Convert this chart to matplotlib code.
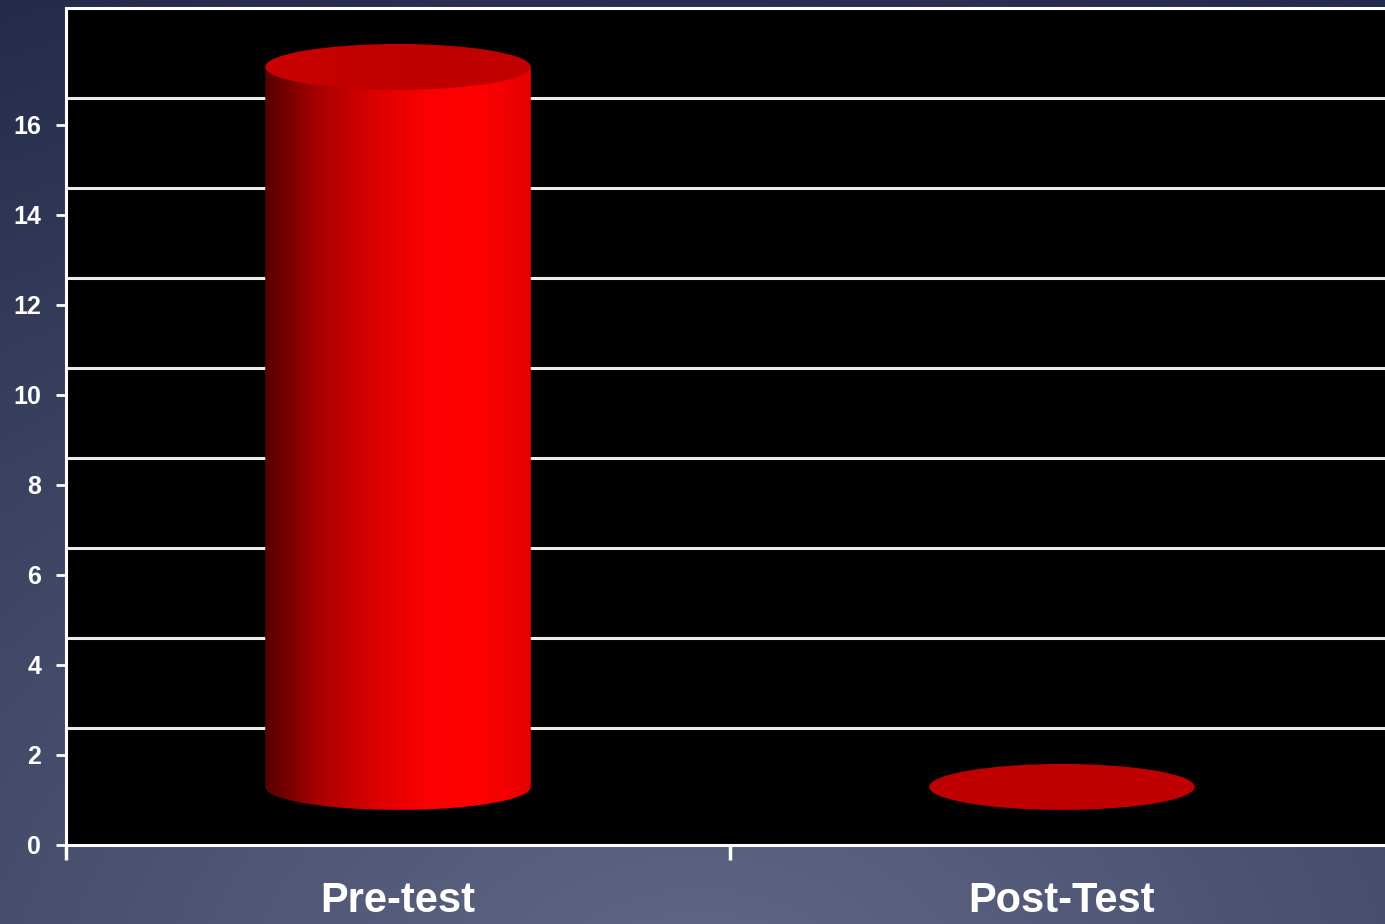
import numpy as np
import matplotlib.pyplot as plt
from matplotlib.colors import LinearSegmentedColormap
from matplotlib.patches import Ellipse, Polygon

plt.rcParams['font.family'] = ['Liberation Sans', 'DejaVu Sans']

# Données
categories = ['Pre-test', 'Post-Test']
values = [16, 0]
y_ticks = [0, 2, 4, 6, 8, 10, 12, 14, 16]

# Effet 3D
base = 1.29      # bas des cylindres
depth = 0.6      # décalage du mur du fond
bar_w = 0.4
ell_h = 1.02
y_max = 18.6

W, H = 1385, 924
fig = plt.figure(figsize=(W / 100, H / 100), dpi=100)

# Fond dégradé bleu-gris
bg = fig.add_axes([0, 0, 1, 1])
yy, xx = np.mgrid[0:H, 0:W]
d = np.sqrt(((xx - 700) / W) ** 2 + ((yy - 1000) / H) ** 2)
t = np.clip(d / 1.19, 0, 1)[..., None]
light = np.array([0.385, 0.41, 0.53])
dark = np.array([0.14, 0.17, 0.29])
bg.imshow(light * (1 - t) + dark * t, extent=[0, W, H, 0], aspect='auto')
bg.axis('off')

# Zone de tracé
ax = fig.add_axes([66 / W, (H - 845) / H, (1394 - 66) / W, (845 - 8) / H])
ax.set_facecolor('black')
ax.set_xlim(0, 2)
ax.set_ylim(0, y_max)

# Lignes du mur du fond
ax.hlines([v + depth for v in y_ticks if v > 0], 0, 2,
          color='#ececec', linewidth=2.2, zorder=1)

body_cmap = LinearSegmentedColormap.from_list(
    'corps', ['#580000', '#a80000', '#d80000', '#fa0000', '#ff0000', '#e60000'])
top_cmap = LinearSegmentedColormap.from_list(
    'dessus', ['#cc0000', '#c20000', '#c00000', '#c20000'])
grad = np.linspace(0, 1, 256)[None, :]

for i, v in enumerate(values):
    xc = i + 0.5
    x0, x1 = xc - bar_w / 2, xc + bar_w / 2
    if v > 0:
        ang = np.linspace(np.pi, 2 * np.pi, 100)
        pts = np.column_stack([xc + bar_w / 2 * np.cos(ang),
                               base + ell_h / 2 * np.sin(ang)])
        pts = np.vstack([pts, [[x1, base + v], [x0, base + v]]])
        clip = Polygon(pts, closed=True, facecolor='none', edgecolor='none',
                       transform=ax.transData)
        ax.add_patch(clip)
        im = ax.imshow(grad, cmap=body_cmap, aspect='auto',
                       extent=[x0, x1, base - ell_h / 2, base + v], zorder=3)
        im.set_clip_path(clip)
        top = Ellipse((xc, base + v), bar_w, ell_h, facecolor='none',
                      edgecolor='none', transform=ax.transData)
        ax.add_patch(top)
        im2 = ax.imshow(grad, cmap=top_cmap, aspect='auto',
                        extent=[x0, x1, base + v - ell_h / 2, base + v + ell_h / 2],
                        zorder=4)
        im2.set_clip_path(top)
    else:
        ax.add_patch(Ellipse((xc, base), bar_w, ell_h, facecolor='#c00000',
                             edgecolor='none', zorder=4))
    ax.text(xc, -1.5, categories[i], ha='center', va='baseline',
            fontsize=30, fontweight='bold', color='white', clip_on=False)

# Axes
ax.set_yticks(y_ticks)
ax.set_yticklabels([str(v) for v in y_ticks], fontsize=18,
                   fontweight='bold', color='white')
ax.set_xticks([0, 1, 2])
ax.set_xticklabels([])
ax.tick_params(axis='y', colors='white', length=7, width=2, pad=11)
ax.tick_params(axis='x', colors='white', length=11, width=2.5)
for s in ['left', 'top', 'bottom']:
    ax.spines[s].set_color('white')
    ax.spines[s].set_linewidth(2.2)
ax.spines['right'].set_visible(False)

plt.savefig('out.png', dpi=100)
